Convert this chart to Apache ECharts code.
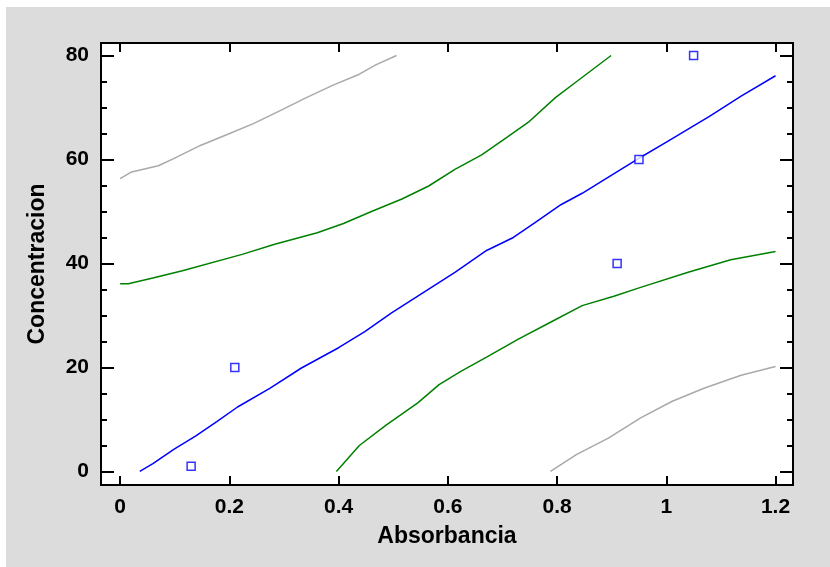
<!DOCTYPE html>
<html>
<head>
<meta charset="utf-8">
<script src="https://cdn.jsdelivr.net/npm/echarts@6/dist/echarts.min.js"></script>
<style>
html,body{margin:0;padding:0;background:#fff;}
#main{position:absolute;left:6px;top:7px;width:824px;height:560px;}
</style>
</head>
<body>
<div id="main"></div>
<script>
// observed points (Absorbancia, Concentracion)
var obsPts = [[0.13, 1], [0.21, 20], [0.91, 40], [0.95, 60], [1.05, 80]];

// fitted line
var fitLine = [[0.036, 0], [0.06, 1.5], [0.099, 4.3], [0.138, 6.8], [0.177, 9.6], [0.215, 12.4],
  [0.274, 16.0], [0.332, 19.9], [0.40, 23.8], [0.448, 26.9], [0.497, 30.5], [0.555, 34.4],
  [0.613, 38.3], [0.671, 42.5], [0.72, 45.0], [0.759, 47.8], [0.807, 51.3], [0.846, 53.5],
  [0.894, 56.6], [0.943, 59.8], [1.001, 63.4], [1.079, 68.3], [1.137, 72.2], [1.2, 76.1]];

// confidence limits (green)
var confUpper = [[0, 36.1], [0.015, 36.1], [0.06, 37.2], [0.114, 38.6], [0.225, 41.8], [0.283, 43.7],
  [0.361, 45.9], [0.409, 47.7], [0.458, 49.9], [0.516, 52.4], [0.565, 54.9], [0.613, 58.1],
  [0.662, 60.9], [0.71, 64.4], [0.749, 67.3], [0.797, 71.9], [0.836, 75.0], [0.899, 80]];
var confLower = [[0.396, 0], [0.438, 5.0], [0.487, 8.9], [0.545, 13.2], [0.584, 16.7], [0.623, 19.2],
  [0.671, 22.0], [0.73, 25.5], [0.788, 28.7], [0.846, 31.9], [0.904, 33.7], [0.953, 35.4],
  [1.04, 38.3], [1.118, 40.7], [1.2, 42.3]];

// prediction limits (gray)
var predUpper = [[0, 56.3], [0.021, 57.6], [0.07, 58.8], [0.099, 60.2], [0.147, 62.7], [0.196, 64.8],
  [0.244, 66.9], [0.293, 69.4], [0.341, 71.9], [0.39, 74.3], [0.438, 76.4], [0.468, 78.2], [0.506, 80]];
var predLower = [[0.788, 0], [0.836, 3.3], [0.894, 6.4], [0.953, 10.3], [1.011, 13.5], [1.069, 16.0],
  [1.137, 18.5], [1.2, 20.2]];

var xTicks = [0, 0.2, 0.4, 0.6, 0.8, 1, 1.2];
var yTicks = [0, 20, 40, 60, 80];
var yMinorTicks = [5, 10, 15, 25, 30, 35, 45, 50, 55, 65, 70, 75];

var xMin = -0.035, xMax = 1.232;
var yMin = -2.6, yMax = 82.4;
var font = '"Liberation Sans", Arial, sans-serif';

function lbl(v) { return String(+(+v).toFixed(2)); }

var myChart = echarts.init(document.getElementById('main'));

function xAx(pos, showLabel) {
  return {
    type: 'value', position: pos, min: xMin, max: xMax,
    name: showLabel ? 'Absorbancia' : '', nameLocation: 'middle', nameGap: 40,
    nameTextStyle: { fontFamily: font, fontWeight: 'bold', fontSize: 23, color: '#000' },
    axisLine: { show: false, onZero: false },
    splitLine: { show: false },
    axisTick: { show: true, inside: true, length: 9, customValues: xTicks, lineStyle: { color: '#000', width: 2 } },
    axisLabel: { show: showLabel, customValues: xTicks, formatter: lbl, margin: 12,
      fontFamily: font, fontWeight: 'bold', fontSize: 21, color: '#000' }
  };
}
function yAx(pos, showLabel, ticks, len) {
  return {
    type: 'value', position: pos, min: yMin, max: yMax,
    name: showLabel ? 'Concentracion' : '', nameLocation: 'middle', nameGap: 52,
    nameTextStyle: { fontFamily: font, fontWeight: 'bold', fontSize: 23, color: '#000' },
    axisLine: { show: false, onZero: false },
    splitLine: { show: false },
    axisTick: { show: true, inside: true, length: len, customValues: ticks, lineStyle: { color: '#000', width: 2 } },
    axisLabel: { show: showLabel, customValues: ticks, formatter: lbl, margin: 12,
      fontFamily: font, fontWeight: 'bold', fontSize: 21, color: '#000' }
  };
}

function curve(data, color) {
  return {
    type: 'line', data: data, showSymbol: false, symbol: 'none', smooth: false,
    lineStyle: { color: color, width: 1.5 }, silent: true, z: 2
  };
}

myChart.setOption({
  backgroundColor: '#dcdcdc',
  animation: false,
  grid: { left: 95, top: 36, right: 37, bottom: 82, show: true, backgroundColor: '#fff',
    borderColor: '#000', borderWidth: 2 },
  xAxis: [xAx('bottom', true), xAx('top', false)],
  yAxis: [
    yAx('left', true, yTicks, 13),
    yAx('left', false, yMinorTicks, 6),
    yAx('right', false, yTicks, 13),
    yAx('right', false, yMinorTicks, 6)
  ],
  series: [
    curve(predUpper, '#a9a9a9'),
    curve(predLower, '#a9a9a9'),
    curve(confUpper, '#008000'),
    curve(confLower, '#008000'),
    curve(fitLine, '#0000ff'),
    {
      type: 'scatter', data: obsPts, symbol: 'rect', symbolSize: 8,
      itemStyle: { color: '#fff', borderColor: '#0000ff', borderWidth: 1.5 }, z: 3
    }
  ]
});
</script>
</body>
</html>
